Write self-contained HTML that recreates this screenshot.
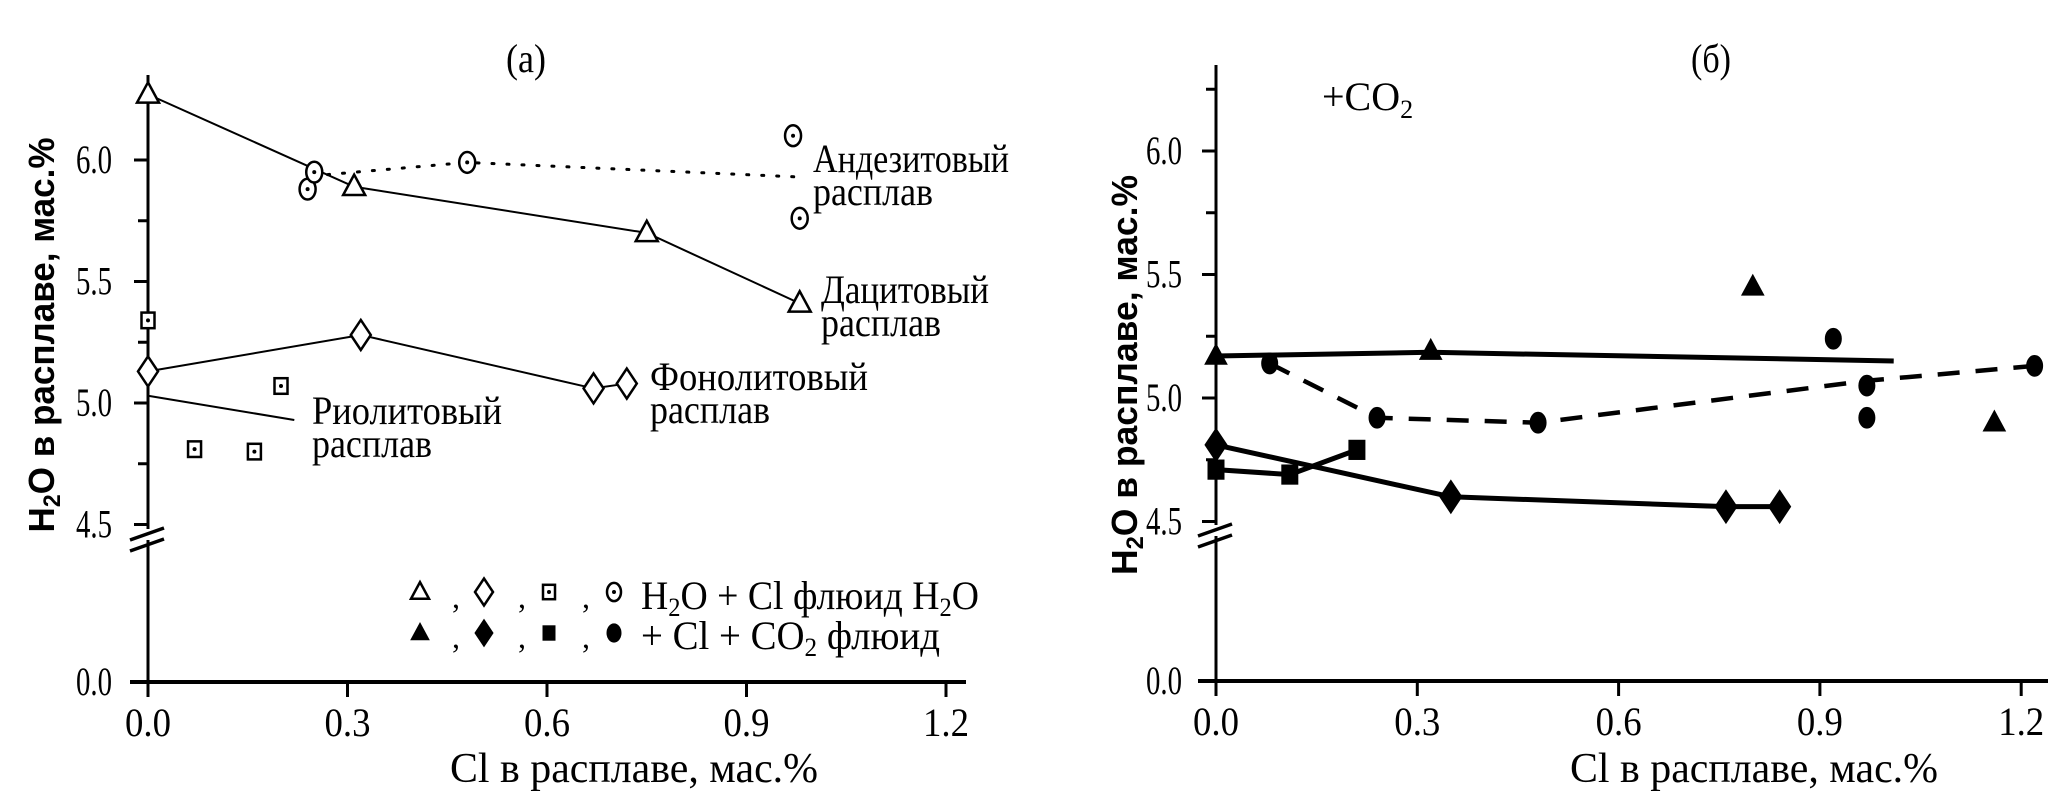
<!DOCTYPE html>
<html><head><meta charset="utf-8"><style>
html,body{margin:0;padding:0;background:#fff;}
svg{display:block;}
text{font-family:"Liberation Serif",serif;fill:#000;}
</style></head><body>
<svg id="chart" width="2067" height="802" viewBox="0 0 2067 802" xmlns="http://www.w3.org/2000/svg">
<g id="pa"></g>
<g id="pb"></g>
</svg>
<script>
// ---- data panel (a) ----
const xTickLabels = ["0.0","0.3","0.6","0.9","1.2"];
const xTickValues = [0,0.3,0.6,0.9,1.2];
const yTickValues = [6.0,5.5,5.0,4.5];
const yTickLabels = ["6.0","5.5","5.0","4.5"];
const yMinorValues = [6.25,5.75,5.25,4.75];
const aDaciteX = [0,0.31,0.75,0.98];
const aDaciteY = [6.27,5.89,5.70,5.41];
const aAndesiteX = [0.24,0.25,0.48,0.97,0.98];
const aAndesiteY = [5.88,5.95,5.99,6.10,5.76];
const aAndesiteLineX = [0.27,0.48,0.98];
const aAndesiteLineY = [5.94,5.99,5.93];
const aPhonoliteX = [0,0.32,0.67,0.72];
const aPhonoliteY = [5.13,5.28,5.06,5.08];
const aRhyoliteX = [0,0.2,0.07,0.16];
const aRhyoliteY = [5.34,5.07,4.81,4.80];
const aRhyoliteLineX = [0,0.22];
const aRhyoliteLineY = [5.03,4.93];
// ---- data panel (б) ----
const bTriX = [0,0.32,0.80,1.16];
const bTriY = [5.17,5.19,5.45,4.90];
const bTriLineX = [0,0.32,1.01];
const bTriLineY = [5.17,5.185,5.15];
const bCircX = [0.08,0.24,0.48,0.92,0.97,0.97,1.22];
const bCircY = [5.14,4.92,4.90,5.24,5.05,4.92,5.13];
const bCircLineX = [0.08,0.24,0.48,0.97,1.22];
const bCircLineY = [5.14,4.92,4.90,5.07,5.13];
const bDiaX = [0,0.35,0.76,0.84];
const bDiaY = [4.81,4.60,4.56,4.56];
const bSqX = [0,0.11,0.21];
const bSqY = [4.71,4.69,4.79];

const NS="http://www.w3.org/2000/svg";
function mk(parent,tag,attrs,text){const e=document.createElementNS(NS,tag);for(const k in attrs)e.setAttribute(k,attrs[k]);if(text!==undefined)e.textContent=text;parent.appendChild(e);return e;}

function axes(g,P,name){
  const xa=mk(g,'line',{x1:P.ax-18,y1:P.y0,x2:P.xEnd,y2:P.y0,stroke:'#000','stroke-width':4});
  
  
  const ya1=mk(g,'line',{x1:P.ax,y1:P.yTop,x2:P.ax,y2:P.brk-3,stroke:'#000','stroke-width':3});
  
  
  const ya2=mk(g,'line',{x1:P.ax,y1:P.brk+8,x2:P.ax,y2:P.y0,stroke:'#000','stroke-width':3});
  
  
  for(const d of [0,11]){
    const b=mk(g,'line',{x1:P.ax-18,y1:P.brk+8+d,x2:P.ax+16,y2:P.brk-4+d,stroke:'#000','stroke-width':3.5});
    
    
  }
  xTickValues.forEach((v,i)=>{
    const x=P.x(v);
    const t=mk(g,'line',{x1:x,y1:P.y0,x2:x,y2:P.y0+15,stroke:'#000','stroke-width':3});
    
    
    const l=mk(g,'text',{x:x,y:P.y0+54,'text-anchor':'middle','font-size':40,textLength:46,lengthAdjust:'spacingAndGlyphs'},xTickLabels[i]);
    
    
  });
  yTickValues.forEach((v,i)=>{
    const y=P.y(v);
    const t=mk(g,'line',{x1:P.ax-14,y1:y,x2:P.ax,y2:y,stroke:'#000','stroke-width':3});
    
    
    const l=mk(g,'text',{x:P.ax-P.lblOff,y:y+13,'text-anchor':'end','font-size':40,textLength:36,lengthAdjust:'spacingAndGlyphs'},yTickLabels[i]);
    
    
  });
  yMinorValues.forEach(v=>{
    const y=P.y(v);
    const t=mk(g,'line',{x1:P.ax-10,y1:y,x2:P.ax,y2:y,stroke:'#000','stroke-width':3});
    
    
  });
  const z=mk(g,'line',{x1:P.ax-14,y1:P.y0,x2:P.ax,y2:P.y0,stroke:'#000','stroke-width':3});
  
  
  const zl=mk(g,'text',{x:P.ax-P.lblOff,y:P.y0+13,'text-anchor':'end','font-size':40,textLength:36,lengthAdjust:'spacingAndGlyphs'},'0.0');
  
  
}

function poly(g,P,xs,ys,attrs,name){
  const pts=xs.map((v,i)=>P.x(v)+','+P.y(ys[i])).join(' ');
  const e=mk(g,'polyline',Object.assign({points:pts,fill:'none',stroke:'#000'},attrs));
  
  
}
function marker(g,type,cx,cy,filled,name,s){
  const f=filled?'#000':'#fff', sw=filled?1:2.5;
  let e;
  if(type==='tri'){e=mk(g,'polygon',{points:`${cx},${cy-s*1.1} ${cx-s},${cy+s*0.75} ${cx+s},${cy+s*0.75}`,fill:f,stroke:'#000','stroke-width':sw});}
  else if(type==='dia'){e=mk(g,'polygon',{points:`${cx},${cy-s*1.5} ${cx+s},${cy} ${cx},${cy+s*1.5} ${cx-s},${cy}`,fill:f,stroke:'#000','stroke-width':sw});}
  else if(type==='sq'){e=mk(g,'rect',{x:cx-s,y:cy-s*1.2,width:2*s,height:2.4*s,fill:f,stroke:'#000','stroke-width':sw});}
  else {e=mk(g,'ellipse',{cx:cx,cy:cy,rx:s,ry:s*1.3,fill:f,stroke:'#000','stroke-width':sw});}
  
  
  if(!filled&&(type==='sq'||type==='circ')){
    const d=mk(g,'circle',{cx:cx,cy:cy,r:2,fill:'#000'});
    
    
  }
}
function txt(g,x,y,s,name,size,attrs){
  const e=mk(g,'text',Object.assign({x:x,y:y,'font-size':size||40},attrs||{}),s);
  
  
  return e;
}

// panel a
const A={ax:148,y0:682,yTop:75,brk:532,xEnd:966,lblOff:36,
  x:v=>148+v*665, y:v=>v===0?682:160+(6.0-v)*243};
const ga=document.getElementById('pa');
axes(ga,A,'panel-a');
poly(ga,A,aDaciteX,aDaciteY,{'stroke-width':2},'dacite-line');
poly(ga,A,aPhonoliteX,aPhonoliteY,{'stroke-width':2},'phonolite-line');
poly(ga,A,aRhyoliteLineX,aRhyoliteLineY,{'stroke-width':2},'rhyolite-leader-line');
poly(ga,A,aAndesiteLineX,aAndesiteLineY,{'stroke-width':3,'stroke-dasharray':'2 13','stroke-linecap':'round'},'andesite-dotted-line');
aDaciteX.forEach((v,i)=>marker(ga,'tri',A.x(v),A.y(aDaciteY[i]),false,'dacite-point',11));
aPhonoliteX.forEach((v,i)=>marker(ga,'dia',A.x(v),A.y(aPhonoliteY[i]),false,'phonolite-point',10));
aRhyoliteX.forEach((v,i)=>marker(ga,'sq',A.x(v),A.y(aRhyoliteY[i]),false,'rhyolite-point',6.5));
aAndesiteX.forEach((v,i)=>marker(ga,'circ',A.x(v),A.y(aAndesiteY[i]),false,'andesite-point',8));
txt(ga,526,72,'(а)','panel-a-title',40,{'text-anchor':'middle',textLength:40,lengthAdjust:'spacingAndGlyphs'});
txt(ga,813,172,'Андезитовый','andesite-label',40,{textLength:196,lengthAdjust:'spacingAndGlyphs'});
txt(ga,813,205,'расплав','andesite-label-2',40,{textLength:120,lengthAdjust:'spacingAndGlyphs'});
txt(ga,821,303,'Дацитовый','dacite-label',40,{textLength:168,lengthAdjust:'spacingAndGlyphs'});
txt(ga,821,336,'расплав','dacite-label-2',40,{textLength:120,lengthAdjust:'spacingAndGlyphs'});
txt(ga,650,390,'Фонолитовый','phonolite-label',40,{textLength:218,lengthAdjust:'spacingAndGlyphs'});
txt(ga,650,423,'расплав','phonolite-label-2',40,{textLength:120,lengthAdjust:'spacingAndGlyphs'});
txt(ga,312,424,'Риолитовый','rhyolite-label',40,{textLength:190,lengthAdjust:'spacingAndGlyphs'});
txt(ga,312,457,'расплав','rhyolite-label-2',40,{textLength:120,lengthAdjust:'spacingAndGlyphs'});
txt(ga,634,782,'Cl в расплаве, мас.%','panel-a-x-axis-title',42,{'text-anchor':'middle',textLength:368,lengthAdjust:'spacingAndGlyphs'});
const yta=txt(ga,0,0,'','panel-a-y-axis-title',36,{transform:'translate(54,335) rotate(-90)','text-anchor':'middle',style:'font-family:"Liberation Sans",sans-serif','font-weight':'bold',textLength:395,lengthAdjust:'spacingAndGlyphs'});
yta.innerHTML='H<tspan font-size="24" dy="6">2</tspan><tspan dy="-6">O в расплаве, мас.%</tspan>';
// legend
marker(ga,'tri',420,592,false,'legend-open-triangle',9);
marker(ga,'dia',484,592,false,'legend-open-diamond',9);
marker(ga,'sq',549,592,false,'legend-open-square',6);
marker(ga,'circ',614,592,false,'legend-open-circle',7);
marker(ga,'tri',420,633,true,'legend-filled-triangle',9);
marker(ga,'dia',484,633,true,'legend-filled-diamond',9);
marker(ga,'sq',549,633,true,'legend-filled-square',6);
marker(ga,'circ',614,633,true,'legend-filled-circle',7);
[452,518,582].forEach(x=>{txt(ga,x,608,',','legend-comma',32);txt(ga,x,648,',','legend-comma',32);});
const l1=txt(ga,641,609,'','legend-entry-h2o-fluid',40,{textLength:338,lengthAdjust:'spacingAndGlyphs'});
l1.innerHTML='H<tspan font-size="26" dy="7">2</tspan><tspan dy="-7">O + Cl  флюид H</tspan><tspan font-size="26" dy="7">2</tspan><tspan dy="-7">O</tspan>';
l1.setAttribute('xml:space','preserve');
const l2=txt(ga,641,649,'','legend-entry-co2-fluid',40,{textLength:299,lengthAdjust:'spacingAndGlyphs'});
l2.innerHTML='+ Cl + CO<tspan font-size="26" dy="7">2</tspan><tspan dy="-7">  флюид</tspan>';
l2.setAttribute('xml:space','preserve');

// panel b
const B={ax:1216,y0:681,yTop:65,brk:528,xEnd:2048,lblOff:34,
  x:v=>1216+v*671, y:v=>v===0?681:151+(6.0-v)*247};
const gb=document.getElementById('pb');
axes(gb,B,'panel-b');
poly(gb,B,bTriLineX,bTriLineY,{'stroke-width':5},'triangle-trend-line');
poly(gb,B,bDiaX,bDiaY,{'stroke-width':5},'diamond-trend-line');
poly(gb,B,bSqX,bSqY,{'stroke-width':5},'square-trend-line');
poly(gb,B,bCircLineX,bCircLineY,{'stroke-width':4.5,'stroke-dasharray':'22 16'},'circle-dashed-trend-line');
bTriX.forEach((v,i)=>marker(gb,'tri',B.x(v),B.y(bTriY[i]),true,'triangle-point',11));
bCircX.forEach((v,i)=>marker(gb,'circ',B.x(v),B.y(bCircY[i]),true,'circle-point',8));
bDiaX.forEach((v,i)=>marker(gb,'dia',B.x(v),B.y(bDiaY[i]),true,'diamond-point',11));
bSqX.forEach((v,i)=>marker(gb,'sq',B.x(v),B.y(bSqY[i]),true,'square-point',8));
txt(gb,1711,72,'(б)','panel-b-title',40,{'text-anchor':'middle',textLength:40,lengthAdjust:'spacingAndGlyphs'});
const co=txt(gb,1322,110,'','co2-annotation',40);
co.innerHTML='+CO<tspan font-size="26" dy="8">2</tspan>';
txt(gb,1754,782,'Cl в расплаве, мас.%','panel-b-x-axis-title',42,{'text-anchor':'middle',textLength:368,lengthAdjust:'spacingAndGlyphs'});
const ytb=txt(gb,0,0,'','panel-b-y-axis-title',36,{transform:'translate(1137,375) rotate(-90)','text-anchor':'middle',style:'font-family:"Liberation Sans",sans-serif','font-weight':'bold',textLength:400,lengthAdjust:'spacingAndGlyphs'});
ytb.innerHTML='H<tspan font-size="24" dy="6">2</tspan><tspan dy="-6">O в расплаве, мас.%</tspan>';
</script>
</body></html>
